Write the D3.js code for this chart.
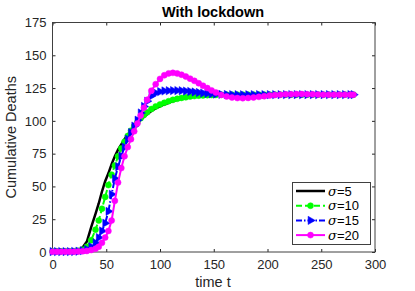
<!DOCTYPE html>
<html>
<head>
<meta charset="utf-8">
<script src="https://cdn.jsdelivr.net/npm/d3@7"></script>
<style>
  body { margin: 0; background: #fff; }
  svg { font-family: "Liberation Sans", Arial, sans-serif; }
  .tick text { fill: #262626; font-size: 13px; }
  .tick line { stroke: #262626; }
</style>
</head>
<body>
<svg id="chart" width="415" height="291"></svg>
<script>
// time points of the solution (days)
const times = [0, 4, 8, 12, 16, 20, 24, 28, 32, 36,
  40, 43, 46, 49, 52, 55, 58, 61, 64, 67,
  70, 73, 76, 79, 82, 85, 88, 92, 96, 100,
  104, 108, 112, 116, 120, 124, 128, 132, 136, 140,
  144, 148, 152, 157, 162, 167, 172, 177, 182, 187,
  192, 197, 202, 207, 212, 217, 222, 227, 232, 237,
  242, 247, 252, 257, 262, 267, 272, 277, 280];

const sigma5 = [0.5, 0.5, 0.5, 0.5, 0.6, 0.8, 1.5, 3.5, 8, 19,
  29, 37, 46, 54, 60, 67, 73, 78, 82, 86,
  89.5, 92.5, 95.5, 98.5, 101, 103, 105, 107.5, 109.5, 111,
  112.5, 113.8, 115, 116, 116.8, 117.5, 118, 118.5, 118.9, 119.2,
  119.4, 119.6, 119.7, 119.8, 119.9, 120, 120, 120, 120, 120,
  120, 120, 120, 120, 120, 120, 120, 120, 120, 120,
  120, 120, 120, 120, 120, 120, 120, 120, 120];

const sigma10 = [0.5, 0.5, 0.5, 0.5, 0.5, 0.6, 0.9, 1.8, 4, 9,
  17, 24, 33, 42, 51, 59, 66, 73, 79, 84,
  88.5, 92.5, 96, 99, 102, 104.5, 106.5, 109, 111, 112.5,
  113.8, 115, 116, 116.8, 117.5, 118, 118.5, 118.9, 119.2, 119.4,
  119.6, 119.7, 119.8, 119.9, 120, 120, 120, 120, 120, 120,
  120, 120, 120, 120, 120, 120, 120, 120, 120, 120,
  120, 120, 120, 120, 120, 120, 120, 120, 120];

const sigma15 = [0.3, 0.3, 0.3, 0.3, 0.3, 0.4, 0.6, 1, 2, 4,
  7, 11, 16, 22, 31, 44, 56, 65, 73, 80,
  86, 91, 96, 100.5, 106, 111, 115, 119, 121.3, 122.3,
  122.8, 123, 123.1, 123.1, 123, 122.7, 122.4, 122, 121.6, 121.2,
  120.9, 120.6, 120.4, 120.2, 120.1, 120, 120, 119.9, 119.9, 120,
  120, 120, 120, 120, 120, 120, 120, 120, 120, 120,
  120, 120, 120, 120, 120, 120, 120, 120, 120];

const sigma20 = [0.2, 0.2, 0.2, 0.2, 0.2, 0.2, 0.3, 0.5, 0.8, 1.5,
  2.5, 4, 7, 11, 16, 24, 39, 53, 64, 73,
  80, 86, 92, 98, 104, 110, 116, 123, 128, 132,
  134.8, 136.2, 136.6, 136.2, 135.2, 133.8, 132.2, 130.5, 128.7, 126.8,
  125, 123.2, 121.6, 119.8, 118.6, 117.8, 117.4, 117.3, 117.5, 117.8,
  118.3, 118.8, 119.3, 119.7, 120, 120.2, 120.3, 120.4, 120.4, 120.3,
  120.2, 120.1, 120, 120, 120, 120, 120, 120, 120];

const xTicks = [0, 50, 100, 150, 200, 250, 300];
const yTicks = [0, 25, 50, 75, 100, 125, 150, 175];

const series = [
  { label: "5", values: sigma5, color: "#000000", dash: null, marker: null, width: 2.5 },
  { label: "10", values: sigma10, color: "#00ff00", dash: "6,3", marker: "circle", width: 2 },
  { label: "15", values: sigma15, color: "#0000ff", dash: "6,2,1.5,2", marker: "triangle", width: 2 },
  { label: "20", values: sigma20, color: "#ff00ff", dash: null, marker: "circle", width: 2 }
];

const svg = d3.select("#chart");
const box = { left: 52.5, right: 375, top: 22.5, bottom: 252 };

const x = d3.scaleLinear().domain([0, 300]).range([box.left, box.right]);
const y = d3.scaleLinear().domain([0, 175]).range([box.bottom, box.top]);

// axes, MATLAB style: ticks pointing inward, box all round
svg.append("g")
  .attr("transform", "translate(0," + box.bottom + ")")
  .call(d3.axisBottom(x).tickValues(xTicks).tickSizeInner(-3).tickSizeOuter(0).tickPadding(8))
  .call(g => g.select(".domain").remove());
svg.append("g")
  .attr("transform", "translate(" + box.left + ",0)")
  .call(d3.axisLeft(y).tickValues(yTicks).tickSizeInner(-3).tickSizeOuter(0).tickPadding(6))
  .call(g => g.select(".domain").remove());
svg.append("g")
  .attr("transform", "translate(0," + box.top + ")")
  .call(d3.axisTop(x).tickValues(xTicks).tickSizeInner(-3).tickSizeOuter(0))
  .call(g => g.selectAll("text").remove())
  .call(g => g.select(".domain").remove());
svg.append("g")
  .attr("transform", "translate(" + box.right + ",0)")
  .call(d3.axisRight(y).tickValues(yTicks).tickSizeInner(-3).tickSizeOuter(0))
  .call(g => g.selectAll("text").remove())
  .call(g => g.select(".domain").remove());

svg.append("rect")
  .attr("x", box.left).attr("y", box.top)
  .attr("width", box.right - box.left).attr("height", box.bottom - box.top)
  .attr("fill", "none").attr("stroke", "#404040").attr("stroke-width", 1);

// markers
function drawMarker(g, kind, color, cx, cy) {
  if (kind === "circle") {
    g.append("circle").attr("cx", cx).attr("cy", cy).attr("r", 3)
      .attr("fill", color).attr("stroke", color).attr("stroke-width", 0.5);
  } else if (kind === "triangle") {
    g.append("path")
      .attr("d", d3.symbol().type(d3.symbolTriangle).size(30))
      .attr("transform", "translate(" + cx + "," + cy + ") rotate(90)")
      .attr("fill", color).attr("stroke", color).attr("stroke-width", 0.5);
  }
}

const line = d3.line().x(d => x(d[0])).y(d => y(d[1]));
const plot = svg.append("g");

series.forEach(s => {
  const pts = times.map((t, i) => [t, s.values[i]]);
  const g = plot.append("g");
  g.append("path")
    .attr("d", line(pts))
    .attr("fill", "none")
    .attr("stroke", s.color)
    .attr("stroke-width", s.width)
    .attr("stroke-dasharray", s.dash);
  if (s.marker) {
    pts.forEach(p => drawMarker(g, s.marker, s.color, x(p[0]), y(p[1])));
  }
});

// legend
const lg = svg.append("g");
lg.append("rect")
  .attr("x", 292.5).attr("y", 182.5).attr("width", 78).attr("height", 62)
  .attr("fill", "#fff").attr("stroke", "#404040").attr("stroke-width", 1);
series.forEach((s, i) => {
  const ly = 191 + i * 14.7;
  lg.append("line")
    .attr("x1", 296).attr("x2", 325).attr("y1", ly).attr("y2", ly)
    .attr("stroke", s.color).attr("stroke-width", s.width)
    .attr("stroke-dasharray", s.dash);
  if (s.marker) drawMarker(lg, s.marker, s.color, 310.5, ly);
  const t = lg.append("text")
    .attr("x", 328).attr("y", ly + 4.5)
    .attr("font-size", 13).attr("fill", "#000");
  t.append("tspan").attr("font-style", "italic").attr("font-family", "DejaVu Serif, serif").text("\u03c3");
  t.append("tspan").text("=" + s.label);
});

// title and axis labels
svg.append("text")
  .attr("x", 213).attr("y", 17)
  .attr("text-anchor", "middle")
  .attr("font-size", 14.5).attr("font-weight", "bold").attr("fill", "#000")
  .text("With lockdown");
svg.append("text")
  .attr("x", 213).attr("y", 287)
  .attr("text-anchor", "middle")
  .attr("font-size", 14.5).attr("fill", "#262626")
  .text("time t");
svg.append("text")
  .attr("transform", "translate(16," + ((box.top + box.bottom) / 2) + ") rotate(-90)")
  .attr("text-anchor", "middle")
  .attr("font-size", 14.5).attr("fill", "#262626")
  .text("Cumulative Deaths");
</script>
</body>
</html>
